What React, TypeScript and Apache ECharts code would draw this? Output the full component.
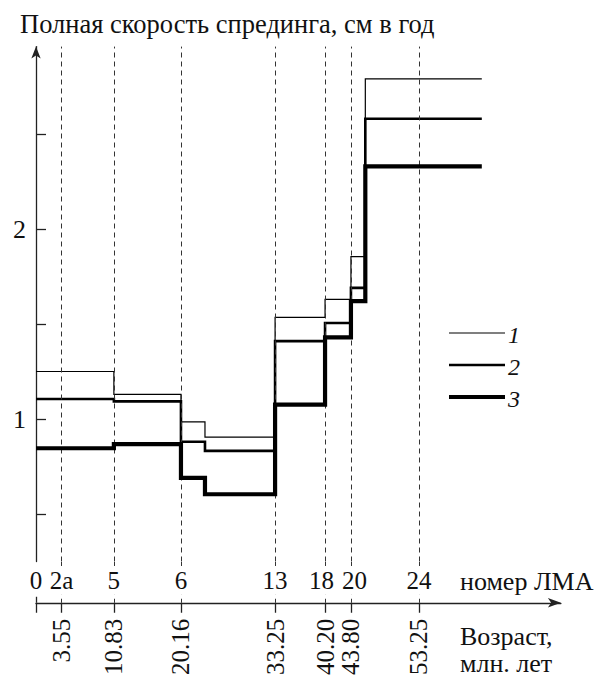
import { useEffect, useRef } from "react";
import * as echarts from "echarts";

// Magnetic anomaly numbers and their ages (Ma)
const anomalyLabels = ["0", "2a", "5", "6", "13", "18", "20", "24"];
const anomalyAges = [0, 3.55, 10.83, 20.16, 33.25, 40.2, 43.8, 53.25];

// Step boundaries (ages, Ma) shared by all three curves
const stepBounds = [0, 10.83, 20.16, 23.5, 33.25, 40.2, 43.8, 45.8, 62];
// Full spreading rate, cm/yr, one value per interval
const rate1 = [1.25, 1.13, 0.985, 0.905, 1.535, 1.63, 1.855, 2.79];
const rate2 = [1.105, 1.093, 0.88, 0.832, 1.41, 1.505, 1.69, 2.58];
const rate3 = [0.846, 0.868, 0.69, 0.604, 1.076, 1.43, 1.62, 2.33];

const seriesNames = ["1", "2", "3"];
const yTickValues = [0.5, 1, 1.5, 2, 2.5];
const yLabelValues = [1, 2];

const FONT = "Liberation Serif";
const INK = "#111";

function toSteps(vals: number[]) {
  const out: number[][] = [];
  vals.forEach((v, i) => {
    out.push([stepBounds[i], v]);
    out.push([stepBounds[i + 1], v]);
  });
  return out;
}

export default function App() {
  const ref = useRef<HTMLDivElement>(null);
  useEffect(() => {
    if (!ref.current) return;
    const chart = echarts.init(ref.current, undefined, { renderer: "svg" });
    const left = 36;
    const right = 48.1;
    const widths = [1.2, 2.6, 4.2];
    const rates = [rate1, rate2, rate3];

    const lowerDash: any[] = [];
    anomalyAges.slice(1).forEach((a) => {
      lowerDash.push([{ coord: [a, 0.86] }, { coord: [a, 1] }]);
      lowerDash.push([{ coord: [a, 0] }, { coord: [a, 0.19] }]);
    });
    lowerDash.push([
      { coord: [0, 0], lineStyle: { type: "solid", width: 1.3, color: "#222" } },
      { coord: [0, 0.14] },
    ]);

    const labelStyleBase = { fontFamily: FONT, fontSize: 25, color: INK };

    const option: any = {
      animation: false,
      textStyle: { fontFamily: FONT },
      title: {
        text: "Полная скорость спрединга, см в год",
        left: 15,
        top: 5,
        textStyle: { fontFamily: FONT, fontSize: 26.5, fontWeight: "normal", color: INK },
      },
      grid: [
        { left, right, top: 46.6, bottom: 116.5 },
        { left, right, top: 560, bottom: 75 },
      ],
      xAxis: [
        {
          type: "value",
          gridIndex: 0,
          min: 0,
          max: 73,
          position: "bottom",
          axisLine: { show: false },
          axisTick: { show: false },
          splitLine: { show: false },
          axisLabel: {
            customValues: anomalyAges,
            margin: 19,
            verticalAlign: "middle",
            fontFamily: FONT,
            fontSize: 25,
            color: INK,
            rich: {
              l: { ...labelStyleBase, padding: [0, 7, 0, 0] },
              r: { ...labelStyleBase, padding: [0, 0, 0, 7] },
            },
            formatter: (v: number) => {
              const i = anomalyAges.findIndex((a) => Math.abs(a - v) < 1e-6);
              if (i < 0) return "";
              const t = anomalyLabels[i];
              if (t === "18") return "{l|" + t + "}";
              if (t === "20") return "{r|" + t + "}";
              return t;
            },
          },
        },
        {
          type: "value",
          gridIndex: 1,
          min: 0,
          max: 73,
          position: "bottom",
          axisLine: {
            show: true,
            symbol: ["none", "arrow"],
            symbolSize: [7, 13],
            lineStyle: { color: "#222", width: 1.3 },
          },
          axisTick: {
            show: true,
            customValues: anomalyAges,
            length: 10,
            lineStyle: { color: "#222", width: 1.3 },
          },
          splitLine: { show: false },
          axisLabel: {
            customValues: anomalyAges.slice(1),
            rotate: 90,
            margin: 16,
            padding: [0, 0, 7, 0],
            fontFamily: FONT,
            fontSize: 25,
            color: INK,
            formatter: (v: number) => v.toFixed(2),
          },
        },
      ],
      yAxis: [
        {
          type: "value",
          gridIndex: 0,
          min: 0.25,
          max: 2.96,
          axisLine: {
            show: true,
            symbol: ["none", "arrow"],
            symbolSize: [7, 12],
            lineStyle: { color: "#222", width: 1.3 },
          },
          axisTick: {
            show: true,
            inside: true,
            length: 10,
            customValues: yTickValues,
            lineStyle: { color: "#222", width: 1.3 },
          },
          splitLine: { show: false },
          axisLabel: {
            customValues: yLabelValues,
            margin: 10,
            fontFamily: FONT,
            fontSize: 26,
            color: INK,
          },
        },
        {
          type: "value",
          gridIndex: 1,
          min: 0,
          max: 1,
          show: false,
        },
      ],
      series: [
        ...rates.map((r, i) => ({
          name: seriesNames[i],
          type: "line",
          xAxisIndex: 0,
          yAxisIndex: 0,
          data: toSteps(r),
          showSymbol: false,
          symbol: "none",
          lineStyle: { color: "#000", width: widths[i], join: "miter", cap: "butt" },
          z: 3 + i,
          markLine:
            i === 0
              ? {
                  silent: true,
                  symbol: "none",
                  label: { show: false },
                  lineStyle: { type: [5, 4], color: "#333", width: 1 },
                  data: anomalyAges.slice(1).map((a) => ({ xAxis: a })),
                }
              : undefined,
        })),
        {
          name: "lower",
          type: "line",
          xAxisIndex: 1,
          yAxisIndex: 1,
          data: [],
          markLine: {
            silent: true,
            symbol: "none",
            label: { show: false },
            lineStyle: { type: [4, 4], color: "#333", width: 1 },
            data: lowerDash,
          },
        },
      ],
      graphic: [
        {
          type: "text",
          x: 460,
          y: 581,
          style: { text: "номер ЛМА", fontFamily: FONT, fontSize: 26, fill: INK, verticalAlign: "middle" },
        },
        {
          type: "text",
          x: 460,
          y: 636,
          style: { text: "Возраст,", fontFamily: FONT, fontSize: 26, fill: INK, verticalAlign: "middle" },
        },
        {
          type: "text",
          x: 460,
          y: 663,
          style: { text: "млн. лет", fontFamily: FONT, fontSize: 26, fill: INK, verticalAlign: "middle" },
        },
        ...[333, 365, 397].flatMap((y, i) => [
          {
            type: "line",
            shape: { x1: 449, y1: y, x2: 505, y2: y },
            style: { stroke: "#000", lineWidth: widths[i] },
          },
          {
            type: "text",
            x: 508,
            y: y + 2,
            style: {
              text: seriesNames[i],
              fontFamily: FONT,
              fontStyle: "italic",
              fontSize: 24,
              fill: INK,
              verticalAlign: "middle",
            },
          },
        ]),
      ],
    };
    chart.setOption(option);
    return () => chart.dispose();
  }, []);
  return (
    <div
      ref={ref}
      style={{ position: "fixed", left: 0, top: 0, width: 609, height: 678, background: "#fff" }}
    />
  );
}
